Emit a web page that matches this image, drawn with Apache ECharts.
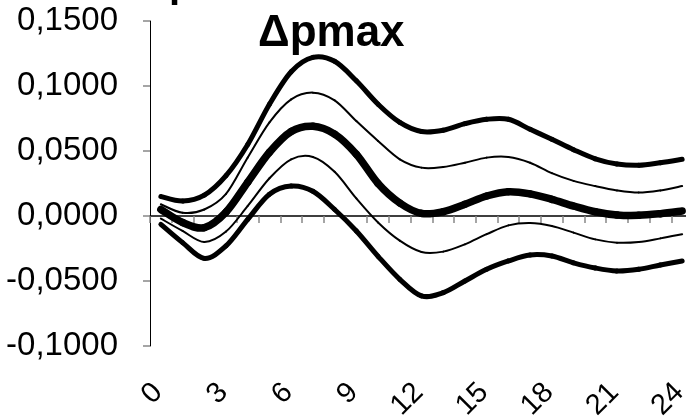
<!DOCTYPE html>
<html>
<head>
<meta charset="utf-8">
<script src="https://cdn.jsdelivr.net/npm/echarts@6/dist/echarts.min.js"></script>
<style>
  html, body { margin: 0; background: #fff; }
  #chart { width: 686px; height: 418px; }
</style>
</head>
<body>
<div id="chart"></div>
<script>
// horizon 0..24
const periods = ["0", "1", "2", "3", "4", "5", "6", "7", "8", "9", "10", "11", "12",
                 "13", "14", "15", "16", "17", "18", "19", "20", "21", "22", "23", "24"];

// upper outer band (thick)
const upperOuter = [0.015, 0.0115, 0.016, 0.031, 0.055, 0.086, 0.111, 0.122, 0.119, 0.104, 0.086, 0.072, 0.065,
                    0.066, 0.071, 0.0744, 0.0744, 0.0667, 0.059, 0.051, 0.044, 0.040, 0.039, 0.041, 0.0436];
// upper inner band (thin)
const upperInner = [0.009, 0.0025, 0.005, 0.017, 0.045, 0.072, 0.0897, 0.0949, 0.089, 0.073, 0.0577, 0.0436, 0.0372,
                    0.0377, 0.041, 0.0449, 0.0454, 0.041, 0.033, 0.027, 0.023, 0.0197, 0.018, 0.0197, 0.023];
// point estimate (thickest)
const response = [0.005, -0.005, -0.009, 0.003, 0.026, 0.049, 0.065, 0.069, 0.063, 0.0475, 0.025, 0.010, 0.002,
                  0.0033, 0.009, 0.0154, 0.0187, 0.017, 0.0128, 0.0077, 0.0033, 0.0008, 0.0005, 0.0018, 0.0038];
// lower inner band (thin)
const lowerInner = [-0.002, -0.0115, -0.020, -0.012, 0.0077, 0.029, 0.0436, 0.0454, 0.034, 0.0135, -0.005, -0.019, -0.0277,
                    -0.0274, -0.0218, -0.014, -0.0072, -0.0054, -0.0077, -0.0128, -0.018, -0.0205, -0.020, -0.0172, -0.014];
// lower outer band (thick)
const lowerOuter = [-0.0064, -0.0205, -0.0326, -0.023, -0.0026, 0.0167, 0.023, 0.019, 0.005, -0.0115, -0.031, -0.0487, -0.0615,
                    -0.059, -0.050, -0.041, -0.0346, -0.030, -0.0308, -0.036, -0.040, -0.0423, -0.041, -0.0377, -0.0346];

const FONT = "'Liberation Sans', Arial, sans-serif";

// Excel-like smoothed line: each data item draws the cubic segment to the next point
// (Catmull-Rom tangents), positions come from the grid axes via api.coord
function smoothLine(values, width) {
  const last = values.length - 1;
  return {
    type: "custom",
    xAxisIndex: 0,
    yAxisIndex: 0,
    silent: true,
    data: values.map((v, i) => [i, v]),
    encode: { x: 0, y: 1 },
    renderItem: function (params, api) {
      const i = params.dataIndex;
      if (i >= last) return null;
      const pt = k => {
        k = Math.max(0, Math.min(last, k));
        return api.coord([k, values[k]]);
      };
      const p0 = pt(i - 1), p1 = pt(i), p2 = pt(i + 1), p3 = pt(i + 2);
      return {
        type: "bezierCurve",
        shape: {
          x1: p1[0], y1: p1[1],
          x2: p2[0], y2: p2[1],
          cpx1: p1[0] + (p2[0] - p0[0]) / 6, cpy1: p1[1] + (p2[1] - p0[1]) / 6,
          cpx2: p2[0] - (p3[0] - p1[0]) / 6, cpy2: p2[1] - (p3[1] - p1[1]) / 6
        },
        style: { stroke: "#000", lineWidth: width, fill: "none", lineCap: "round" }
      };
    }
  };
}

const chart = echarts.init(document.getElementById("chart"));
chart.setOption({
  animation: false,
  backgroundColor: "#fff",
  title: {
    text: "Δpmax",
    left: 253,
    top: 7,
    textStyle: { fontFamily: FONT, fontSize: 44, fontWeight: "bold", color: "#000" }
  },
  graphic: [{
    // piece of a cut-off heading above the plot
    type: "text",
    left: 169,
    top: -34,
    style: { text: "p", fill: "#000", font: "bold 40px " + FONT }
  }],
  grid: { left: 150, right: -7, top: 21, bottom: 72, containLabel: false, outerBoundsMode: "none" },
  xAxis: [{
    type: "category",
    data: periods,
    boundaryGap: true,
    axisLine: { onZero: true, lineStyle: { color: "#000", width: 1.5 } },
    axisTick: { show: true, interval: 0, length: 7, lineStyle: { color: "#888", width: 1.5 } },
    axisLabel: { show: false },
    splitLine: { show: false }
  }, {
    type: "category",
    data: periods,
    position: "bottom",
    boundaryGap: true,
    axisLine: { show: false, onZero: false },
    axisTick: { show: false },
    axisLabel: {
      interval: 2,
      rotate: 45,
      margin: 39,
      padding: [0, 4, 0, 0],
      fontFamily: FONT,
      fontSize: 29,
      color: "#000"
    },
    splitLine: { show: false }
  }],
  yAxis: {
    type: "value",
    min: -0.1,
    max: 0.15,
    interval: 0.05,
    axisLine: { show: true, lineStyle: { color: "#000", width: 1 } },
    axisTick: { show: true, length: 7, lineStyle: { color: "#888", width: 1.5 } },
    axisLabel: {
      margin: 32,
      fontFamily: FONT,
      fontSize: 33,
      color: "#000",
      formatter: v => v.toFixed(4).replace(".", ",")
    },
    splitLine: { show: false }
  },
  series: [
    smoothLine(upperInner, 2),
    smoothLine(lowerInner, 2),
    smoothLine(upperOuter, 5),
    smoothLine(lowerOuter, 5),
    smoothLine(response, 7.5)
  ]
});
</script>
</body>
</html>
